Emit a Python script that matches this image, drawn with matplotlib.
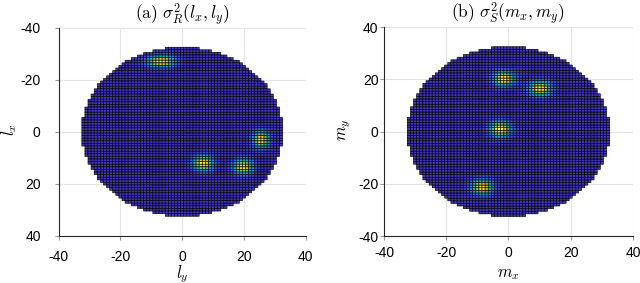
import numpy as np
import matplotlib

matplotlib.use("Agg")

import matplotlib.pyplot as plt
from matplotlib.colors import LinearSegmentedColormap

plt.rcParams["font.family"] = "Liberation Sans"
plt.rcParams["mathtext.fontset"] = "cm"
plt.rcParams["axes.unicode_minus"] = False

# disc of samples, radius in grid units
radius = 32
tick_values = [-40, -20, 0, 20, 40]
floor_level = 0.06

# panel (a): peak centres (l_y, l_x), widths and heights
a_ly = [-7, 25.5, 6.6, 19.6]
a_lx = [-27, 3, 12.2, 13.5]
a_sig_ly = [2.8, 1.6, 2.1, 2.1]
a_sig_lx = [1.5, 2.2, 1.9, 1.9]
a_amp = [1.0, 1.0, 1.0, 0.95]

# panel (b): peak centres (m_x, m_y)
b_mx = [-1.5, 10, -2.7, -8.6]
b_my = [20.3, 16.5, 1.0, -21.2]
b_sig_mx = [2.2, 2.3, 2.2, 2.1]
b_sig_my = [1.9, 1.9, 2.0, 1.9]
b_amp = [1.0, 1.0, 1.0, 1.0]

parula_colors = ["#3e26a8", "#4743e8", "#2f6ffa", "#1997e0", "#07b3c4",
                 "#3ac09e", "#8bc26b", "#d4bb45", "#fbcc2e", "#f9fb0e"]
parula = LinearSegmentedColormap.from_list("parula", parula_colors)


def make_field(cx, cy, sx, sy, amp):
    """Sum of gaussian bumps on the integer grid, masked outside the disc."""
    coords = np.arange(-radius, radius + 1)
    gx, gy = np.meshgrid(coords, coords)
    field = np.full(gx.shape, floor_level)
    for i in range(len(cx)):
        field += amp[i] * np.exp(-((gx - cx[i]) ** 2) / (2 * sx[i] ** 2)
                                 - ((gy - cy[i]) ** 2) / (2 * sy[i] ** 2))
    field = np.ma.masked_where(gx ** 2 + gy ** 2 > radius ** 2 + radius, field)
    return field


def style_axes(ax, xpad, ypad):
    ax.set_xlim(-40, 40)
    ax.set_xticks(tick_values)
    ax.set_yticks(tick_values)
    ax.grid(True, color="#e4e4e4", linewidth=0.8)
    ax.set_axisbelow(True)
    for side in ["top", "right"]:
        ax.spines[side].set_visible(False)
    for side in ["left", "bottom"]:
        ax.spines[side].set_color("#262626")
        ax.spines[side].set_linewidth(0.8)
    ax.tick_params(axis="x", length=3, color="#999999", labelsize=10, pad=xpad)
    ax.tick_params(axis="y", length=3, color="#999999", labelsize=10, pad=ypad)


edges = np.arange(-radius - 0.5, radius + 1.5)

fig = plt.figure(figsize=(6.4, 2.83), dpi=100)
ax1 = fig.add_axes([0.0917, 0.167, 0.386, 0.735])
ax2 = fig.add_axes([0.600, 0.166, 0.389, 0.738])

# (a)
style_axes(ax1, 7, 10)
field_a = make_field(a_ly, a_lx, a_sig_ly, a_sig_lx, a_amp)
ax1.pcolor(edges, edges, field_a, cmap=parula, vmin=0, vmax=1.02,
           edgecolors="k", linewidth=0.45, antialiased=True)
ax1.set_ylim(40, -40)
ax1.set_title(r"$\mathrm{(a)}\ \sigma^2_R(l_x, l_y)$", fontsize=12.5, pad=6)
ax1.set_xlabel(r"$l_y$", fontsize=12)
ax1.set_ylabel(r"$l_x$", fontsize=12)
ax1.xaxis.set_label_coords(0.5, -0.13)
ax1.yaxis.set_label_coords(-0.16, 0.51)

# (b)
style_axes(ax2, 4, 1)
field_b = make_field(b_mx, b_my, b_sig_mx, b_sig_my, b_amp)
ax2.pcolor(edges, edges, field_b, cmap=parula, vmin=0, vmax=1.02,
           edgecolors="k", linewidth=0.45, antialiased=True)
ax2.set_ylim(-40, 40)
ax2.set_title(r"$\mathrm{(b)}\ \sigma^2_S(m_x, m_y)$", fontsize=12.5, pad=6)
ax2.set_xlabel(r"$m_x$", fontsize=12)
ax2.set_ylabel(r"$m_y$", fontsize=12)
ax2.xaxis.set_label_coords(0.5, -0.15)
ax2.yaxis.set_label_coords(-0.125, 0.51)

fig.savefig("out.png", dpi=100)
plt.close(fig)
